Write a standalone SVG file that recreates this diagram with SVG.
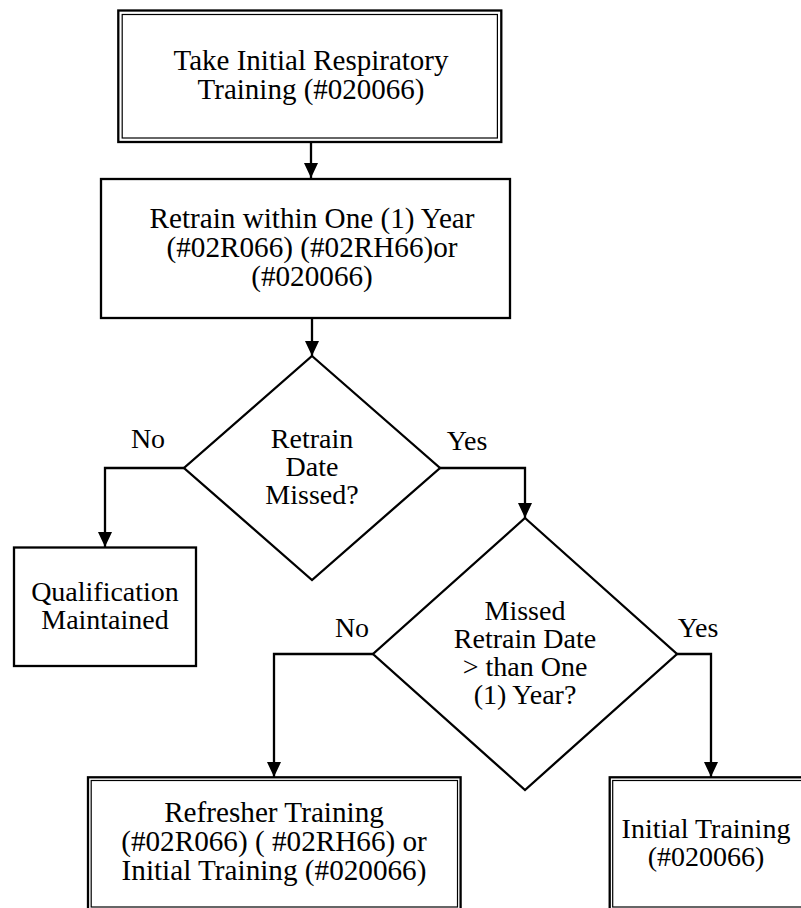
<svg xmlns="http://www.w3.org/2000/svg" width="801" height="908" viewBox="0 0 801 908">
<style>
.t{font-family:"Liberation Serif","Times New Roman",serif;font-size:28px;fill:#000;text-anchor:middle}
.big{font-size:29.2px}
.mid{font-size:29px}
.box{fill:#fff;stroke:#000;stroke-width:2.3}
.inner{fill:none;stroke:#000;stroke-width:1.2}
.dia{fill:#fff;stroke:#000;stroke-width:2.3}
.conn{fill:none;stroke:#000;stroke-width:2.3}
</style>
<defs>
<marker id="arr" markerUnits="userSpaceOnUse" markerWidth="16" markerHeight="15" refX="15" refY="7" orient="auto">
<path d="M0,0 L15,7 L0,14 z" fill="#000"/>
</marker>
</defs>
<rect width="801" height="908" fill="#fff"/>
<g id="connectors">
<path class="conn" d="M311,142 V178" marker-end="url(#arr)"/>
<path class="conn" d="M312,318 V356" marker-end="url(#arr)"/>
<path class="conn" d="M184,468 H105 V547" marker-end="url(#arr)"/>
<path class="conn" d="M440,468 H525 V518" marker-end="url(#arr)"/>
<path class="conn" d="M373,654 H274 V777" marker-end="url(#arr)"/>
<path class="conn" d="M677,654 H711 V777" marker-end="url(#arr)"/>
</g>
<g id="start">
<rect class="box" x="118.3" y="10.5" width="383" height="131.5"/>
<rect class="inner" x="122.2" y="14.5" width="375.2" height="123.5"/>
<text class="t mid" x="311" y="70">Take Initial Respiratory</text>
<text class="t mid" x="311" y="99">Training (#020066)</text>
</g>
<g id="retrain">
<rect class="box" x="101" y="179" width="409" height="139"/>
<text class="t big" x="312" y="228">Retrain within One (1) Year</text>
<text class="t big" x="312" y="257">(#02R066) (#02RH66)or</text>
<text class="t big" x="312" y="286">(#020066)</text>
</g>
<g id="decision1">
<polygon class="dia" points="312,356 440,468 312,580 184,468"/>
<text class="t" x="312" y="448">Retrain</text>
<text class="t" x="312" y="476">Date</text>
<text class="t" x="312" y="504">Missed?</text>
</g>
<g id="labels">
<text class="t" x="148" y="448">No</text>
<text class="t" x="467" y="450">Yes</text>
<text class="t" x="352" y="637">No</text>
<text class="t" x="698" y="637">Yes</text>
</g>
<g id="qualification">
<rect class="box" x="14" y="547.5" width="182" height="118.5"/>
<text class="t" x="105" y="601">Qualification</text>
<text class="t" x="105" y="629">Maintained</text>
</g>
<g id="decision2">
<polygon class="dia" points="525,518 677,654 525,790 373,654"/>
<text class="t" x="525" y="620">Missed</text>
<text class="t" x="525" y="648">Retrain Date</text>
<text class="t" x="525" y="676">&gt; than One</text>
<text class="t" x="525" y="704">(1) Year?</text>
</g>
<g id="refresher">
<rect class="box" x="88" y="777.3" width="372.6" height="133"/>
<rect class="inner" x="91.2" y="780.5" width="366.3" height="126.5"/>
<text class="t big" x="274" y="822">Refresher Training</text>
<text class="t big" x="274" y="851">(#02R066) ( #02RH66) or</text>
<text class="t big" x="274" y="880">Initial Training (#020066)</text>
</g>
<g id="initial">
<rect class="box" x="609.7" y="777.3" width="200" height="133"/>
<rect class="inner" x="612.7" y="780.5" width="194" height="126.5"/>
<text class="t" x="706" y="838">Initial Training</text>
<text class="t" x="706" y="866">(#020066)</text>
</g>
</svg>
